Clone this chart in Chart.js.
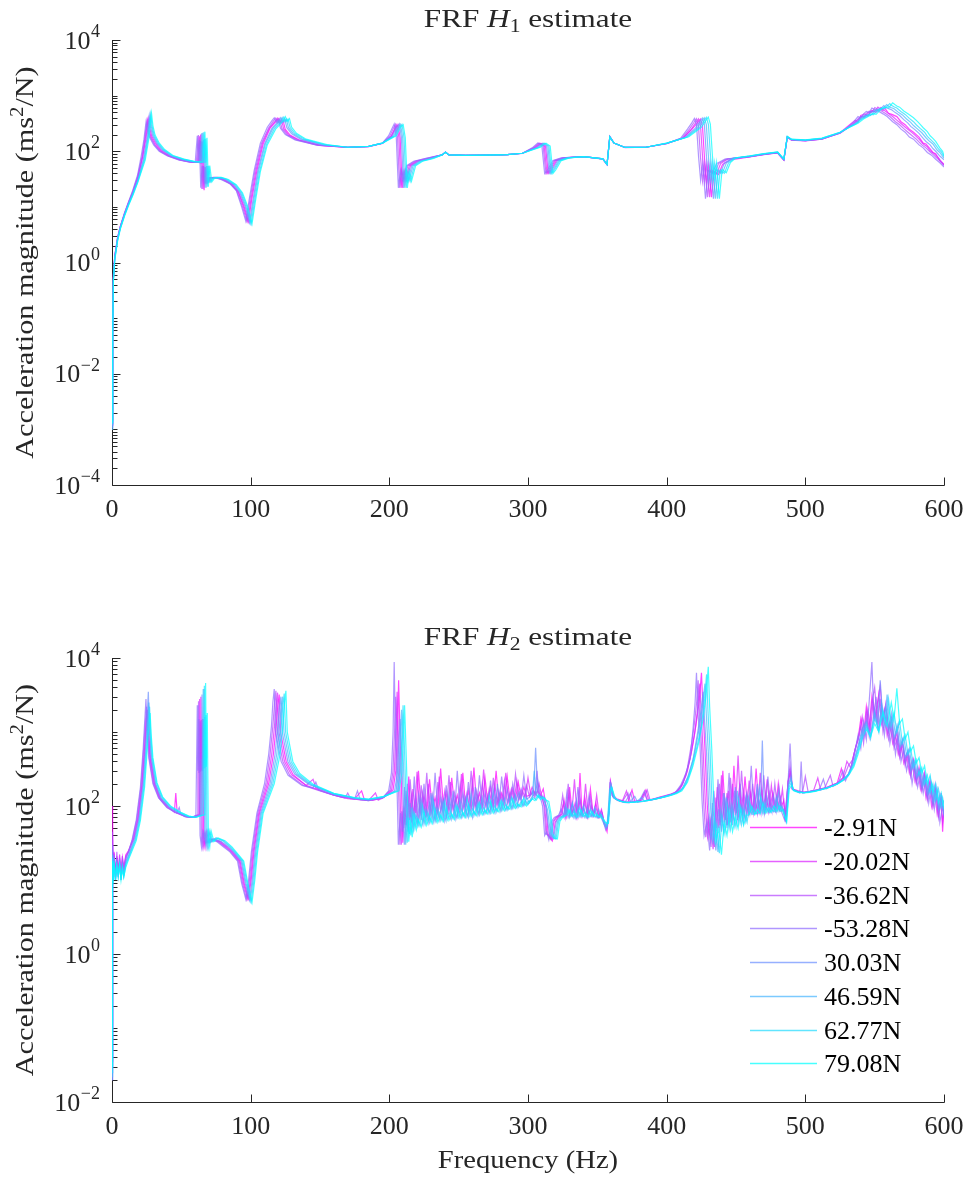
<!DOCTYPE html>
<html>
<head>
<meta charset="utf-8">
<script src="https://cdn.jsdelivr.net/npm/chart.js@4.4.1/dist/chart.umd.min.js"></script>
<style>
html,body{margin:0;padding:0;background:#fff;}
#wrap{position:relative;width:970px;height:1180px;background:#fff;}
canvas{position:absolute;left:0;}
</style>
</head>
<body>
<div id="wrap">
<canvas id="cH1" width="970" height="540" style="top:0"></canvas>
<canvas id="cH2" width="970" height="640" style="top:540px"></canvas>
</div>
<script>
// ---- static preload of each measurement (legend order) ----
const forceLabels = ['-2.91N', '-20.02N', '-36.62N', '-53.28N', '30.03N', '46.59N', '62.77N', '79.08N'];
const freqTicks = [0, 100, 200, 300, 400, 500, 600];
const h1Decades = [-4, -2, 0, 2, 4];
const h2Decades = [-2, 0, 2, 4];

// ---- H1 estimate: [frequency Hz, accelerance] ----
const h1N291 = [[0,0.0012],[0.5,0.05],[1,0.5],[2,1.25],[4,2.7],[6,4.4],[9,7.5],[12,12],[15,18],[18.5,32],[22,75],[24.5,170],[26.2,380],[27.2,260],[28.7,185],[31.7,135],[35.7,102],[41.7,82],[49.7,70],[57.7,64],[62.4,63],[63.9,200],[64.6,60],[65.4,150],[66.4,20],[67.4,52],[68.9,27],[70.9,33],[75.9,34],[80.9,31],[87,25],[91.5,18],[95.4,10],[98.4,5.4],[100.9,14],[104.5,45],[109,135],[114,260],[118.5,350],[120.4,390],[121.9,320],[123.4,360],[124.9,250],[128.4,195],[135.4,158],[150.4,128],[170,117],[185,121],[195,138],[201.3,185],[204.3,255],[206.3,300],[207.8,175],[209.3,22],[210.8,44],[212.3,30],[215.3,55],[220.3,66],[228.3,74],[238,86],[240.5,96],[243,86],[255,84],[270,85],[285,87],[296,91],[305.6,118],[309.6,138],[312.6,122],[314.6,40],[316.6,46],[320.6,68],[326.6,76],[340,80],[354,72],[357,57],[359,180],[362,140],[370,116],[385,118],[400,137],[412,175],[418,245],[422,320],[424.3,380],[425.8,290],[427.3,75],[428.8,28],[430.3,58],[432.3,15],[434.3,44],[437.3,38],[440.3,58],[446,70],[460,79],[470,87],[480,93],[484.5,69],[487,178],[490,158],[500,153],[512,165],[525,215],[532,300],[536,360],[538,330],[540,440],[543,470],[545,430],[548,540],[551,500],[554.4,610],[556,560],[557.4,590],[560,480],[562.4,460],[566,420],[569,340],[572,300],[575,250],[578,220],[582,180],[585,140],[587,135],[590,110],[592,95],[594,90],[597,68],[600,57]];
const h1N2002 = [[0,0.0015],[0.5,0.07],[1,0.6],[2,1.3],[4,2.7],[6,4.4],[9,7.5],[12,12],[15,18.5],[18.5,34],[22,80],[24,170],[25.6,360],[26.6,250],[28.1,182],[31.1,132],[35.1,101],[41.1,82],[49.1,70],[57.1,64],[61.6,63],[63.1,185],[63.8,60],[64.6,150],[65.6,21],[66.6,53],[68.1,27],[70.1,33],[75.1,34],[80.1,31],[86.3,25],[90.8,19],[94.8,10],[97.8,5.5],[100.3,14],[103.8,45],[108.5,140],[113.5,262],[117.8,352],[119.3,392],[120.8,322],[122.3,362],[123.8,252],[127.3,196],[134.3,159],[149.3,128],[170,117],[185,121],[195,139],[201.4,186],[203.9,256],[205.4,302],[206.9,176],[208.4,22],[209.9,45],[211.4,30],[214.4,55],[219.4,66],[227.4,74],[238,86],[240.5,96],[243,86],[255,84],[270,85],[285,87],[296,92],[304.7,117],[308.7,139],[311.7,123],[313.7,40],[315.7,46],[319.7,68],[325.7,76],[340,80],[354,73],[357,58],[359,182],[362,140],[370,117],[385,118],[400,138],[412,173],[417.9,252],[420.9,325],[422.9,383],[424.4,292],[425.9,77],[427.4,29],[428.9,59],[430.9,15],[432.9,45],[435.9,39],[438.9,60],[444,72],[460,80],[470,88],[480,94],[484.5,70],[487,180],[490,160],[500,155],[512,166],[525,213],[530,260],[534,300],[537,350],[541,430],[543,410],[545,480],[548,530],[550,510],[552.3,620],[554,580],[555.3,550],[557,540],[560.3,470],[563,420],[567,345],[570,300],[573,260],[576,225],[579,195],[582,165],[585,135],[588,120],[590,102],[593,90],[596,76],[598,66],[600,58]];
const h1N3662 = [[0,0.0013],[0.5,0.06],[1,0.6],[2,1.3],[4,2.8],[6,4.4],[9,7.6],[12,12],[15,19],[18.5,35],[21.5,78],[23.5,165],[25.1,350],[26.1,245],[27.6,180],[30.6,130],[34.6,100],[40.6,82],[48.6,70],[56.6,64],[60.8,63],[62.3,195],[63,61],[63.8,155],[64.8,21],[65.8,54],[67.3,27],[69.3,33],[74.3,34],[79.3,31],[85.6,26],[90.1,19],[94.1,10],[97.1,5.6],[99.6,14],[103.1,45],[107.8,140],[113,265],[116.6,355],[118.1,395],[119.6,325],[121.1,365],[122.6,255],[126.1,198],[133,160],[148,129],[170,118],[185,122],[195,139],[200.4,188],[202.9,258],[204.4,305],[205.9,178],[207.4,22],[208.9,45],[210.4,30],[213.4,55],[218.4,66],[226.4,74],[238,86],[240.5,97],[243,86],[255,84],[270,85],[285,87],[296,92],[303.9,116],[307.9,140],[310.9,124],[312.9,40],[314.9,46],[318.9,68],[324.9,76],[340,80],[354,73],[357,58],[359,183],[362,140],[370,117],[385,118],[400,138],[411,172],[416.4,250],[419.4,322],[421.4,385],[422.9,295],[424.4,78],[425.9,29],[427.4,59],[429.4,15],[431.4,45],[434.4,39],[437.4,60],[443,72],[460,80],[470,88],[480,94],[484.5,70],[487,180],[490,160],[500,155],[512,166],[525,212],[530,255],[533,295],[536,340],[540,425],[542,400],[544,480],[546,525],[548,500],[550.1,610],[552,570],[553.1,545],[555,530],[558.1,470],[561,420],[565,340],[568,300],[571,255],[574,220],[577,190],[580,165],[584,130],[587,115],[590,97],[592,88],[595,75],[598,63],[600,55]];
const h1N5328 = [[0,0.0011],[0.5,0.05],[1,0.55],[2,1.3],[4,2.8],[6,4.5],[9,7.8],[12,12.5],[15,20],[18.5,38],[21,80],[23,160],[24.5,330],[25.5,240],[27,180],[30,130],[34,100],[40,82],[48,70],[56,64],[60,63],[61.5,190],[62.2,62],[63,160],[64,22],[65,55],[66.5,27],[68.5,33],[73.5,34],[78.5,31],[85,26],[89.5,20],[93.5,10],[96.5,5.5],[99,14],[102.5,45],[107,140],[112,270],[115.5,360],[117,400],[118.5,330],[120,370],[121.5,260],[125,200],[132,160],[147,130],[170,118],[185,122],[195,140],[199.5,190],[202,260],[203.5,310],[205,180],[206.5,22],[208,45],[209.5,30],[212.5,55],[217.5,66],[225.5,74],[238,86],[240.5,97],[243,86],[255,84],[270,85],[285,87],[296,92],[303,115],[307,140],[310,125],[312,40],[314,46],[318,68],[324,76],[340,80],[354,73],[357,58],[359,185],[362,140],[370,117],[385,118],[400,138],[410,170],[415,250],[418,320],[420,390],[421.5,300],[423,80],[424.5,30],[426,60],[428,14],[430,45],[433,40],[436,60],[442,72],[460,80],[470,88],[480,94],[484.5,70],[487,180],[490,160],[500,155],[512,165],[525,210],[530,260],[532,290],[535,340],[538,420],[540,390],[542,470],[544,520],[546,490],[548,600],[550,560],[551,540],[553,520],[556,470],[559,420],[563,340],[566,300],[569,250],[572,220],[575,180],[578,165],[582,130],[585,115],[588,95],[591,85],[594,72],[597,62],[600,52]];
const h1P3003 = [[0,0.0012],[0.5,0.05],[1,0.5],[2,1.2],[4,2.6],[6,4.2],[9,7.2],[12,11.5],[15,17.5],[18.5,30],[22.5,70],[25,160],[26.8,420],[27.8,270],[29.3,190],[32.3,137],[36.3,104],[42.3,83],[50.3,71],[58.3,65],[63.1,64],[64.6,210],[65.3,61],[66.1,160],[67.1,22],[68.1,54],[69.6,28],[71.6,33],[76.6,34],[81.6,31],[87.7,25],[92.2,18],[96.1,10],[99.1,5.2],[101.6,13],[105.1,44],[110,135],[115.2,255],[120.1,350],[121.6,400],[123.1,335],[124.6,375],[126.1,265],[129.6,205],[136.6,162],[151.6,130],[170,118],[185,122],[195,140],[202.2,188],[205.2,262],[207.2,310],[208.7,178],[210.2,22],[211.7,44],[213.2,29],[216.2,55],[221.2,66],[229.2,74],[238,86],[240.5,96],[243,86],[255,84],[270,85],[285,87],[296,92],[306.4,118],[310.4,140],[313.4,124],[315.4,40],[317.4,46],[321.4,68],[327.4,76],[340,80],[354,73],[357,58],[359,182],[362,140],[370,117],[385,118],[400,139],[413,176],[420.7,260],[423.7,335],[425.7,395],[427.2,300],[428.7,80],[430.2,30],[431.7,60],[433.7,14],[435.7,46],[438.7,40],[441.7,62],[447,74],[460,81],[470,89],[480,95],[484.5,71],[487,182],[490,162],[500,157],[512,168],[525,215],[530,262],[535,305],[538,350],[540,400],[543,450],[545,430],[547,500],[551,560],[553,540],[556.6,660],[558,610],[559.6,590],[562,560],[564.6,500],[568,440],[571,370],[574,320],[576,280],[579,245],[582,210],[585,170],[587,150],[590,130],[592,112],[594,100],[597,82],[600,70]];
const h1P4659 = [[0,0.001],[0.5,0.05],[1,0.5],[2,1.2],[4,2.6],[6,4.2],[9,7.1],[12,11.3],[15,17],[18.5,29],[23,70],[25.6,165],[27.4,440],[28.4,280],[29.9,192],[32.9,138],[36.9,105],[42.9,83],[50.9,71],[58.9,65],[63.9,64],[65.4,215],[66.1,61],[66.9,165],[67.9,22],[68.9,54],[70.4,28],[72.4,33],[77.4,34],[82.4,31],[88.3,25],[92.8,18],[96.7,10],[99.7,5.1],[102.2,13],[105.7,44],[110.6,135],[116,255],[121.2,350],[122.7,405],[124.2,338],[125.7,378],[127.2,268],[130.7,207],[137.7,163],[152.7,131],[170,118],[185,122],[195,140],[203.1,188],[206.1,262],[208.1,305],[209.6,176],[211.1,22],[212.6,44],[214.1,29],[217.1,55],[222.1,66],[230.1,74],[238,86],[240.5,96],[243,86],[255,84],[270,85],[285,87],[296,92],[307.3,118],[311.3,140],[314.3,124],[316.3,40],[318.3,46],[322.3,68],[328.3,76],[340,80],[354,73],[357,58],[359,180],[362,140],[370,117],[385,118],[400,139],[414,178],[422.1,262],[425.1,340],[427.1,400],[428.6,302],[430.1,82],[431.6,31],[433.1,60],[435.1,14],[437.1,46],[440.1,40],[443.1,62],[448,75],[460,82],[470,90],[480,96],[484.5,72],[487,183],[490,163],[500,158],[512,170],[525,217],[531,265],[536,310],[539,360],[542,410],[545,460],[547,440],[550,520],[553,580],[555,560],[558.7,690],[560,640],[561.7,610],[564,580],[566.7,510],[570,450],[573,380],[576,330],[578,290],[581,250],[584,215],[587,175],[589,155],[592,135],[595,105],[597,95],[600,75]];
const h1P6277 = [[0,0.0014],[0.5,0.06],[1,0.5],[2,1.15],[4,2.5],[6,4.1],[9,7],[12,11],[15,16.5],[18.5,28],[23.5,70],[26.1,170],[27.9,460],[28.9,285],[30.4,195],[33.4,140],[37.4,106],[43.4,84],[51.4,72],[59.4,65],[64.7,64],[66.2,220],[66.9,62],[67.7,170],[68.7,23],[69.7,55],[71.2,28],[73.2,33],[78.2,34],[83.2,31],[89,25],[93.5,18],[97.4,10],[100.4,5],[102.9,13],[106.4,43],[111.4,132],[117,252],[122.4,350],[123.9,410],[125.4,340],[126.9,380],[128.4,270],[131.9,208],[138.9,164],[153.9,131],[170,118],[185,122],[195,140],[204.1,190],[207.1,265],[209.1,305],[210.6,175],[212.1,22],[213.6,44],[215.1,29],[218.1,55],[223.1,66],[231.1,74],[238,86],[240.5,96],[243,86],[255,84],[270,85],[285,87],[296,92],[308.1,118],[312.1,140],[315.1,124],[317.1,40],[319.1,46],[323.1,68],[329.1,76],[340,80],[354,73],[357,58],[359,180],[362,140],[370,117],[385,118],[400,140],[415,180],[423.6,265],[426.6,345],[428.6,405],[430.1,305],[431.6,83],[433.1,31],[434.6,61],[436.6,14],[438.6,46],[441.6,40],[444.6,62],[449,75],[460,82],[470,90],[480,96],[484.5,72],[487,184],[490,164],[500,159],[512,171],[525,219],[531,268],[537,315],[540,370],[544,420],[547,470],[549,450],[552,540],[555,600],[557,580],[560.9,720],[562,670],[563.9,630],[566,600],[568.9,520],[572,460],[575,390],[578,340],[580,300],[583,255],[586,220],[588,185],[590,165],[593,140],[596,110],[598,98],[600,80]];
const h1P7908 = [[0,0.0013],[0.5,0.05],[1,0.45],[2,1.1],[4,2.4],[6,4],[9,6.8],[12,10.7],[15,16],[18.5,27],[24,70],[26.7,175],[28.5,480],[29.5,290],[31,197],[34,141],[38,107],[44,84],[52,72],[60,65],[65.5,64],[67,225],[67.7,62],[68.5,175],[69.5,23],[70.5,55],[72,28],[74,33],[79,34],[84,31],[89.6,25],[94.1,18],[98,10],[101,5],[103.5,13],[107,43],[112,130],[118,250],[123.5,350],[125,420],[126.5,345],[128,385],[129.5,272],[133,210],[140,165],[155,132],[170,118],[185,122],[195,140],[205,190],[208,268],[210,300],[211.5,174],[213,22],[214.5,44],[216,29],[219,55],[224,66],[232,74],[238,86],[240.5,96],[243,86],[255,84],[270,85],[285,87],[296,92],[309,118],[313,140],[316,124],[318,40],[320,46],[324,68],[330,76],[340,80],[354,73],[357,58],[359,180],[362,140],[370,117],[385,118],[400,140],[416,182],[425,268],[428,350],[430,410],[431.5,308],[433,84],[434.5,32],[436,62],[438,14],[440,47],[443,41],[446,63],[450,76],[460,83],[470,91],[480,97],[484.5,73],[487,185],[490,165],[500,160],[512,172],[525,220],[532,270],[538,320],[542,380],[546,430],[549,480],[551,460],[554,550],[557,620],[560,600],[563,740],[564.5,690],[566,650],[568,620],[571,530],[574,470],[578,400],[581,340],[583,300],[585,265],[588,225],[590,190],[592,170],[594,150],[597,115],[599,100],[600,83]];

// ---- H2 estimate: [frequency Hz, accelerance] ----
const h2N291 = [[0,0.035],[0.3,100],[0.7,15],[1.5,24],[2.5,12],[3.5,21],[4.5,13],[5.5,19],[6.5,12],[7.5,20],[8.5,15],[10,22],[12,25],[15.8,36],[18.8,66],[21.8,190],[23.8,620],[24.8,1300],[25.8,2000],[26.6,900],[27.8,440],[30.8,200],[34.8,128],[40.8,96],[45,82],[46,150],[47,81],[53.8,72],[58.8,70],[63.1,76],[63.6,400],[64.1,3000],[64.6,300],[65.3,1500],[66.1,38],[67.1,28],[68.1,45],[70.1,32],[73.1,36],[78.1,33],[83.1,28],[86.9,24],[92.4,18],[95.4,9],[98.4,5.6],[100.4,10],[102.4,24],[106.4,80],[113,200],[116.4,500],[118.4,1200],[119.6,2300],[120.6,3200],[121.6,1000],[123.1,700],[125.6,400],[130.6,265],[140,190],[155,150],[165,133],[175,125],[180,160],[182,122],[188,119],[196,130],[202.7,165],[204.7,300],[205.9,1200],[206.7,5000],[207.5,1300],[208.7,200],[209.7,32],[211,90],[212.5,60],[214,250],[215.5,70],[217,170],[219,80],[221,300],[223,85],[225,140],[227,80],[229,230],[231,90],[233,130],[235,85],[237,320],[239,95],[241,150],[243,90],[245,240],[247,100],[249,140],[251,95],[253,280],[255,100],[257,160],[259,100],[261,330],[263,105],[265,150],[267,100],[269,240],[271,110],[273,180],[275,105],[277,300],[279,110],[281,150],[283,115],[285,250],[287,120],[289,170],[291,125],[293,210],[295,130],[297,180],[299,135],[301,140],[303,180],[305,145],[307,160],[309,140],[311,170],[313,100],[314.6,40],[316.1,38],[317.6,34],[319.6,60],[321.6,70],[324.6,78],[326,120],[328,74],[330,180],[332,76],[334,110],[336,74],[337.5,280],[339,78],[341,130],[343,74],[345,170],[347,76],[349,110],[351,72],[353,90],[355,58],[357,45],[358.5,90],[359.5,215],[361.5,140],[364,125],[368,118],[372,112],[375,165],[377,115],[381,118],[385,165],[387,120],[391,124],[395,132],[399,138],[403,145],[407,155],[411,190],[415,300],[418,550],[421,1200],[423.5,2600],[425.1,6300],[426.2,2000],[427.6,600],[429.2,110],[430.7,40],[432.5,70],[434.5,28],[436.5,180],[438.5,55],[440.5,300],[442.5,65],[444.5,160],[446.5,60],[448.5,350],[450.5,80],[452.5,180],[454.5,75],[456.5,250],[458.5,85],[460.5,150],[462.5,82],[464.5,320],[466.5,90],[468.5,160],[470.5,85],[472.5,230],[474.5,95],[476.5,150],[478.5,90],[480.5,200],[482.5,95],[484.5,120],[485.8,62],[487.6,215],[489.2,280],[491,170],[495,160],[499,154],[503,157],[507,163],[511,170],[515,178],[519,190],[523,205],[526,320],[528,225],[532,280],[535,500],[538,800],[540,1500],[542,900],[544,2200],[546,1100],[548,3000],[550,1500],[552,2500],[554,4200],[556,1400],[558,2400],[560,1000],[562,1500],[564,700],[566,1000],[568,500],[570,750],[572,380],[574,550],[576,270],[578,420],[580,210],[582,330],[584,170],[586,280],[588,130],[590,230],[592,100],[594,190],[596,70],[598,150],[599,45],[600,100]];
const h2N2002 = [[0,0.03],[0.4,35],[0.8,13],[1.5,23],[2.5,11],[3.5,20],[4.5,14],[5.5,22],[6.5,12],[7.5,18],[8.5,14],[10,21],[12,24],[15.4,36],[18.4,66],[21.4,185],[23.4,600],[24.4,1250],[25.4,2000],[26.2,900],[27.4,440],[30.4,200],[34.4,128],[40.4,95],[47.4,80],[53.4,72],[58.4,70],[62.2,76],[62.7,420],[63.2,2800],[63.7,290],[64.4,1450],[65.2,38],[66.2,28],[67.2,44],[69.2,32],[72.2,36],[77.2,33],[82.2,28],[86.3,24],[91.8,18],[94.8,9],[97.8,5.6],[99.8,10],[101.8,24],[105.8,80],[112,200],[115.2,500],[117.2,1200],[118.4,2300],[119.4,3400],[120.4,1000],[121.9,700],[124.4,400],[129.4,265],[140,190],[145,230],[147,175],[160,140],[170,126],[185,119],[190,150],[192,120],[196,130],[201.6,165],[203.6,290],[204.8,1000],[205.6,3500],[206.4,1100],[207.6,190],[208.6,30],[210,85],[211.5,55],[213,200],[214.5,65],[216,140],[218,75],[220,290],[222,80],[224,150],[226,70],[228,200],[230,80],[232,120],[234,75],[236,250],[238,90],[240,160],[242,85],[244,210],[246,90],[248,130],[250,85],[252,270],[254,95],[256,150],[258,90],[260,220],[262,100],[264,140],[266,95],[268,310],[270,100],[272,170],[274,100],[276,200],[278,105],[280,150],[282,110],[284,280],[286,115],[288,170],[290,120],[292,220],[294,125],[296,160],[298,130],[300,240],[302,140],[304,160],[306,140],[308,200],[310,130],[312,100],[313.7,42],[315.2,40],[316.7,35],[318.7,62],[320.7,70],[323.7,76],[325.5,110],[327.5,72],[329.5,150],[331.5,74],[333.5,230],[335.5,72],[337.5,120],[339.5,76],[341.5,200],[343.5,72],[345.5,100],[347.5,74],[349.5,140],[351.5,70],[353.5,80],[355,60],[357,52],[358.7,100],[359.6,205],[361.3,135],[364,122],[368,116],[371,160],[373,113],[377,116],[381,118],[384,150],[386,120],[390,124],[394,130],[398,134],[402,142],[406,150],[410,175],[414,260],[417,450],[420,900],[422,1800],[423.9,4500],[425,1600],[426.4,500],[428,100],[429.5,38],[431.5,65],[433.5,26],[435.5,130],[437.5,50],[439.5,260],[441.5,60],[443.5,150],[445.5,60],[447.5,200],[449.5,75],[451.5,480],[453.5,80],[455.5,160],[457.5,78],[459.5,220],[461.5,85],[463.5,140],[465.5,80],[467.5,280],[469.5,90],[471.5,150],[473.5,85],[475.5,190],[477.5,90],[479.5,140],[481.5,90],[483.5,170],[485.5,66],[487.5,205],[489,300],[490.5,170],[494,157],[498,152],[502,156],[506,162],[509,240],[511,165],[515,176],[519,190],[523,205],[527,240],[530,400],[533,320],[536,600],[539,900],[541,1600],[543,900],[545,2000],[547,1100],[549,2600],[551,1500],[553,3200],[555,1300],[557,2000],[559,900],[561,1300],[563,700],[565,900],[567,500],[569,650],[571,380],[573,500],[575,280],[577,420],[579,220],[581,320],[583,170],[585,260],[587,130],[589,210],[591,100],[593,180],[595,80],[597,140],[599,60],[600,90]];
const h2N3662 = [[0,0.025],[0.4,45],[0.8,14],[1.5,20],[2.5,12],[3.5,24],[4.5,11],[5.5,17],[6.5,13],[7.5,21],[8.5,12],[10,19],[12,25],[14.9,36],[17.9,66],[20.9,185],[22.9,620],[23.9,1250],[24.9,2200],[25.7,950],[26.9,440],[29.9,200],[33.9,128],[39.9,95],[46.9,80],[52.9,72],[57.9,70],[61.4,76],[61.9,450],[62.4,2600],[62.9,280],[63.6,1400],[64.4,38],[65.4,28],[66.4,44],[68.4,32],[71.4,36],[76.4,33],[81.4,28],[85.6,24],[91.1,18],[94.1,9],[97.1,5.5],[99.1,10],[101.1,24],[105.1,80],[111,200],[114,500],[116,1200],[117.2,2400],[118.2,3600],[119.2,1000],[120.7,700],[123.2,400],[128.2,260],[138,190],[150,160],[160,140],[168,128],[170,150],[172,126],[185,118],[195,128],[200.6,165],[202.6,290],[203.8,1000],[204.6,3000],[205.4,1100],[206.6,190],[207.6,30],[209,85],[210.5,50],[212,160],[213.5,60],[215,230],[217,70],[219,130],[221,60],[223,190],[225,80],[227,280],[229,75],[231,140],[233,70],[235,210],[237,85],[239,120],[241,75],[243,260],[245,90],[247,150],[249,80],[251,190],[253,90],[255,130],[257,85],[259,300],[261,95],[263,160],[265,90],[267,200],[269,100],[271,140],[273,95],[275,240],[277,100],[279,160],[281,105],[283,220],[285,110],[287,150],[289,115],[291,270],[293,120],[295,170],[297,125],[299,190],[301,135],[303,150],[305,130],[306.5,300],[308,135],[310,140],[311.5,100],[312.9,42],[314.5,40],[316,36],[318,62],[320,70],[323,76],[325,140],[327,72],[329,200],[331,75],[333,95],[335,70],[337,160],[339,76],[341,110],[343,72],[345,130],[347,74],[349,95],[351,70],[353,85],[354.5,62],[356.5,50],[358.5,80],[359.3,200],[361,135],[364,122],[368,115],[372,150],[374,113],[378,116],[382,118],[386,165],[388,120],[392,125],[396,130],[400,136],[404,145],[408,160],[412,210],[415,330],[418,700],[420,1300],[421.7,2600],[422.7,5000],[423.7,1800],[425.2,600],[426.7,110],[428.2,38],[430,70],[432,28],[434,160],[436,50],[438,200],[440,60],[442,120],[444,55],[446,240],[448,75],[450,140],[452,70],[454,300],[456,80],[458,150],[460,80],[462,200],[464,85],[466,130],[468,80],[470,260],[472,90],[474,150],[476,85],[478,200],[480,90],[482,130],[484,85],[485.5,66],[487.5,210],[489,350],[490.5,170],[494,158],[498,152],[500,250],[502,155],[506,160],[510,168],[514,175],[518,260],[520,185],[524,205],[528,250],[531,350],[534,420],[537,700],[540,1200],[542,700],[544,1800],[546,900],[548,2500],[550,4000],[552,1300],[554,2800],[556,1000],[558,1600],[560,800],[562,1200],[564,600],[566,800],[568,450],[570,700],[572,350],[574,500],[576,250],[578,400],[580,200],[582,300],[584,160],[586,260],[588,120],[590,200],[592,100],[594,170],[596,70],[598,130],[600,80]];
const h2N5328 = [[0,0.02],[0.4,30],[0.8,12],[1.5,22],[2.5,10],[3.5,18],[4.5,12],[5.5,20],[6.5,11],[7.5,17],[8.5,13],[10,20],[12,24],[14.5,35],[17.5,65],[20.5,180],[22.5,600],[23.5,1300],[24.5,2800],[25.3,1000],[26.5,450],[29.5,200],[33.5,130],[39.5,95],[46.5,80],[48.5,95],[49.5,78],[52.5,72],[57.5,70],[60.5,75],[61,400],[61.5,2300],[62,300],[62.7,1500],[63.5,40],[64.5,28],[65.5,45],[67.5,32],[70.5,36],[75.5,33],[80.5,28],[85,24],[90.5,18],[93.5,9],[96.5,5.5],[98.5,10],[100.5,24],[104.5,80],[110,200],[113,500],[115,1200],[116,2500],[117,3800],[118,1000],[119.5,700],[122,400],[127,260],[137,190],[145,175],[147,210],[149,165],[160,140],[175,125],[177,160],[179,122],[185,118],[195,128],[199.5,160],[201.5,280],[202.7,1000],[203.5,8800],[204.3,1200],[205.5,200],[206.5,30],[208,80],[209.5,45],[211,180],[212.5,55],[214,120],[216,60],[218,250],[219.5,70],[221,140],[223,65],[225,200],[227,75],[229,110],[231,70],[233,280],[235,80],[237,130],[239,70],[241,190],[243,85],[245,120],[247,75],[249,300],[251,85],[253,150],[255,80],[257,210],[259,90],[261,130],[263,85],[265,260],[267,95],[269,150],[271,90],[273,220],[275,95],[277,140],[279,100],[281,250],[283,105],[285,170],[287,110],[289,200],[291,115],[293,150],[295,120],[297,260],[299,125],[301,130],[303,160],[305,140],[307,220],[309,130],[310.5,100],[312,40],[313.5,45],[315,35],[317,62],[319,70],[322,75],[324,90],[326,70],[328,150],[330,75],[332,110],[334,72],[336,180],[338,78],[340,95],[342,72],[344,140],[346,75],[348,90],[350,70],[352,80],[354,65],[356,48],[358,70],[359,210],[360.5,140],[363,125],[366,118],[370,112],[374,150],[376,112],[380,115],[384,160],[386,118],[390,122],[394,128],[398,135],[402,142],[406,150],[410,190],[414,280],[417,450],[419,1100],[420.5,2500],[421.5,6300],[422.5,2000],[424,700],[425.5,120],[427,40],[429,60],[431,25],[433,110],[435,45],[437,230],[439,60],[441,150],[443,55],[445,280],[447,70],[449,160],[451,65],[453,200],[455,75],[457,130],[459,80],[461,350],[463,82],[465,170],[467,82],[469,120],[471,85],[473,250],[475,90],[477,140],[479,85],[481,180],[483,82],[485,65],[487.5,200],[489,700],[490.5,170],[493,160],[496,150],[497,400],[498,150],[502,155],[506,160],[510,165],[513,230],[515,170],[520,190],[524,210],[527,300],[529,220],[532,300],[535,450],[538,900],[540,600],[542,1400],[544,800],[546,2500],[548,8800],[549.5,1500],[551,3000],[553,1200],[555,2200],[557,900],[559,1800],[561,700],[563,1200],[565,500],[567,900],[569,400],[571,600],[573,300],[575,450],[577,200],[579,350],[581,180],[583,280],[585,150],[587,250],[589,110],[591,200],[593,90],[595,160],[597,60],[599,100],[600,70]];
const h2P3003 = [[0,0.02],[0.4,25],[0.8,11],[1.5,20],[2.5,10],[3.5,17],[4.5,12],[5.5,18],[6.5,10],[7.5,16],[8.5,12],[10,18],[12,22],[16.2,36],[19.2,66],[22.2,190],[24.2,650],[25.2,1400],[26.2,3500],[27,1000],[28.2,450],[31.2,200],[35.2,128],[41.2,96],[48.2,80],[54.2,72],[59.2,70],[63.9,76],[64.4,420],[64.9,3200],[65.4,300],[66.1,1500],[66.9,38],[67.9,28],[68.9,45],[70.9,32],[73.9,36],[78.9,33],[83.9,28],[87.6,24],[93.1,18],[96.1,9],[99.1,5.4],[101.1,10],[103.1,24],[107.1,80],[114,200],[117.6,500],[119.6,1200],[120.8,2200],[121.8,3000],[122.8,1000],[124.3,700],[126.8,400],[131.8,270],[142,195],[160,145],[175,127],[185,121],[196,132],[203.8,160],[205.8,280],[207,800],[207.8,1500],[208.6,700],[209.8,150],[210.8,30],[212.2,70],[213.5,45],[215,110],[216.5,50],[218,80],[220,55],[222,130],[224,58],[226,90],[228,60],[230,150],[232,62],[234,95],[236,65],[238,120],[240,62],[242,85],[244,68],[246,160],[248,66],[250,90],[252,70],[254,130],[256,72],[258,95],[260,70],[262,180],[264,75],[266,100],[268,78],[270,120],[272,80],[274,105],[276,82],[278,200],[280,85],[282,110],[284,88],[286,130],[288,92],[290,115],[292,95],[294,150],[296,100],[298,120],[300,105],[302,125],[304,140],[305.5,610],[307,150],[309,130],[311,135],[313,95],[315.4,42],[317,38],[318.5,36],[320.4,62],[322.4,70],[325.4,75],[327,100],[329,70],[331,90],[333,70],[335,120],[337,72],[339,85],[341,70],[343,95],[345,72],[347,80],[349,70],[351,90],[353,68],[355,56],[357,50],[358.8,120],[359.7,195],[361.5,130],[365,118],[369,112],[373,110],[377,135],[379,112],[383,115],[387,120],[391,124],[395,128],[399,135],[403,140],[407,150],[411,170],[415,240],[419,420],[422,900],[424.5,1800],[426.3,3500],[427.3,1500],[428.8,500],[430.3,100],[431.8,35],[433.5,60],[435.5,25],[437.5,90],[439.5,45],[441.5,150],[443.5,50],[445.5,110],[447.5,55],[449.5,180],[451.5,60],[453.5,100],[455.5,60],[457.5,140],[459.5,78],[461.5,95],[463.5,78],[465.5,200],[467.5,80],[469,770],[470.5,80],[472.5,130],[474.5,82],[476.5,100],[478.5,84],[480.5,150],[482.5,85],[484.5,90],[486,64],[487.8,195],[489.5,250],[491,165],[495,156],[499,152],[503,155],[507,160],[511,166],[515,174],[519,185],[523,200],[527,225],[531,270],[535,400],[538,650],[541,1100],[544,1400],[547,900],[550,2000],[552,1200],[554,5000],[556,1400],[558,2200],[560,1100],[562,1800],[564,800],[566,1200],[568,600],[570,800],[572,450],[574,550],[576,300],[578,400],[580,240],[582,300],[584,180],[586,240],[588,140],[590,190],[592,110],[594,160],[596,90],[598,130],[600,75]];
const h2P4659 = [[0,0.022],[0.4,22],[0.8,10],[1.5,19],[2.5,11],[3.5,16],[4.5,11],[5.5,17],[6.5,11],[7.5,15],[8.5,12],[10,17],[12,21],[16.6,35],[19.6,65],[22.6,185],[24.6,620],[25.6,1300],[26.6,2500],[27.4,950],[28.6,450],[31.6,200],[35.6,130],[41.6,97],[48.6,81],[54.6,72],[59.6,70],[64.8,76],[65.3,450],[65.8,3800],[66.3,320],[67,1600],[67.8,38],[68.8,28],[69.8,46],[71.8,33],[74.8,37],[79.8,34],[84.8,28],[88.2,24],[93.7,18],[96.7,9],[99.7,5.2],[101.7,10],[103.7,24],[107.7,80],[115,200],[118.8,500],[120.8,1200],[122,2200],[123,3000],[124,1000],[125.5,700],[128,400],[133,270],[143,195],[160,146],[175,128],[185,122],[196,133],[204.8,160],[206.8,280],[208,900],[208.8,2000],[209.6,800],[210.8,150],[211.8,30],[213.2,70],[214.5,42],[216,95],[217.5,48],[219,75],[221,55],[223,115],[225,57],[227,85],[229,60],[231,130],[233,62],[235,90],[237,64],[239,110],[241,65],[243,140],[245,66],[247,88],[249,70],[251,120],[253,72],[255,92],[257,70],[259,150],[261,74],[263,100],[265,76],[267,130],[269,78],[271,95],[273,80],[275,160],[277,82],[279,105],[281,86],[283,125],[285,88],[287,110],[289,92],[291,140],[293,96],[295,115],[297,100],[299,130],[301,110],[303,125],[304.5,300],[306,140],[308,128],[310,135],[312,115],[314,90],[316.3,42],[318,38],[319.5,36],[321.3,62],[323.3,70],[326.3,75],[328,95],[330,70],[332,110],[334,70],[336,88],[338,72],[340,100],[342,70],[344,85],[346,72],[348,95],[350,70],[352,80],[354,66],[356,52],[358,60],[359.2,150],[360,190],[362,128],[366,117],[370,112],[374,112],[378,114],[382,130],[384,116],[388,120],[392,125],[396,130],[400,135],[404,142],[408,152],[412,175],[416,260],[420,500],[423,1000],[425.8,2200],[427.6,4500],[428.6,1700],[430.1,500],[431.6,100],[433.1,35],[435,60],[437,24],[439,85],[441,45],[443,130],[445,50],[447,100],[449,55],[451,160],[453,60],[455,95],[457,62],[459,130],[461,78],[463,90],[465,78],[467,170],[469,80],[471,110],[473,82],[475,95],[477,84],[479,130],[481,85],[483,100],[484.5,85],[486.2,63],[488,190],[489.7,230],[491.2,165],[495,157],[499,152],[503,156],[507,160],[511,167],[515,175],[519,186],[523,200],[527,225],[531,265],[535,380],[538,600],[541,1000],[544,1300],[547,800],[550,1800],[553,1000],[555,2400],[557,1300],[559,3200],[561,1100],[563,1700],[565,900],[567,1300],[569,650],[571,850],[573,480],[575,600],[577,320],[579,420],[581,250],[583,320],[585,190],[587,250],[589,150],[591,200],[593,115],[595,170],[597,95],[599,130],[600,100]];
const h2P6277 = [[0,0.025],[0.4,20],[0.8,10],[1.5,18],[2.5,10],[3.5,16],[4.5,12],[5.5,16],[6.5,10],[7.5,15],[8.5,11],[10,16],[12,20],[17.1,35],[20.1,65],[23.1,185],[25.1,620],[26.1,1250],[27.1,2200],[27.9,950],[29.1,450],[32.1,205],[36.1,132],[42.1,98],[49.1,82],[55.1,73],[60.1,70],[65.6,76],[66.1,480],[66.6,4200],[67.1,330],[67.8,1700],[68.6,38],[69.6,28],[70.6,46],[72.6,33],[75.6,37],[80.6,34],[85.6,28],[88.9,24],[94.4,18],[97.4,9],[100.4,5.1],[102.4,10],[104.4,24],[108.4,80],[116,200],[120,500],[122,1200],[123.2,2300],[124.2,3300],[125.2,1000],[126.7,700],[129.2,400],[134.2,272],[144,196],[160,147],[175,129],[185,123],[196,134],[205.9,160],[207.9,280],[209.1,900],[209.9,2300],[210.7,800],[211.9,150],[212.9,32],[214.3,70],[215.5,40],[217,85],[218.5,50],[220,70],[222,54],[224,100],[226,57],[228,80],[230,60],[232,110],[234,62],[236,82],[238,64],[240,120],[242,66],[244,85],[246,68],[248,105],[250,70],[252,90],[254,72],[256,130],[258,74],[260,92],[262,76],[264,110],[266,78],[268,95],[270,80],[272,140],[274,82],[276,100],[278,85],[280,115],[282,88],[284,105],[286,90],[288,130],[290,94],[292,110],[294,98],[296,120],[298,102],[300,115],[302,118],[304,130],[306,120],[308,140],[310,125],[312,130],[314,110],[315.5,85],[317.1,42],[318.8,37],[320.3,36],[322.1,62],[324.1,70],[327.1,75],[329,90],[331,72],[333,85],[335,70],[337,95],[339,72],[341,82],[343,70],[345,90],[347,72],[349,80],[351,70],[353,76],[355,62],[357,55],[359,170],[360.3,180],[362.5,127],[366,117],[370,112],[374,112],[378,114],[382,116],[386,119],[390,123],[394,128],[398,133],[402,140],[406,148],[410,160],[414,200],[418,320],[422,650],[425,1200],[427.3,2800],[428.8,6000],[429.8,1900],[431.3,550],[432.8,100],[434.3,33],[436,55],[438,23],[440,70],[442,42],[444,100],[446,48],[448,80],[450,52],[452,120],[454,56],[456,85],[458,60],[460,110],[462,77],[464,80],[466,79],[468,130],[470,80],[472,95],[474,82],[476,88],[478,84],[480,110],[482,85],[484,90],[486.4,62],[488.2,180],[490,210],[491.5,163],[495,155],[499,151],[503,155],[507,159],[511,166],[515,174],[519,185],[523,199],[527,222],[531,260],[535,360],[538,550],[541,900],[544,1200],[547,900],[550,1500],[553,1100],[556,2000],[558,1300],[560,2800],[562,1200],[564,1800],[566,1000],[568,1400],[570,700],[572,900],[574,500],[576,600],[578,330],[580,420],[582,260],[584,330],[586,200],[588,260],[590,150],[592,200],[594,120],[596,170],[598,95],[600,120]];
const h2P7908 = [[0,0.03],[0.4,18],[0.8,9],[1.5,17],[2.5,10],[3.5,15],[4.5,11],[5.5,16],[6.5,10],[7.5,14],[8.5,11],[10,15],[12,19],[17.5,34],[20.5,64],[23.5,180],[25.5,600],[26.5,1150],[27.5,1800],[28.3,900],[29.5,450],[32.5,205],[36.5,133],[42.5,99],[49.5,82],[55.5,73],[60.5,70],[66.5,76],[67,500],[67.5,4600],[68,340],[68.7,1800],[69.5,38],[70.5,28],[71.5,46],[73.5,33],[76.5,37],[81.5,34],[86.5,28],[89.5,24],[95,18],[98,9],[101,5],[103,10],[105,24],[109,80],[117,200],[121.2,500],[123.2,1200],[124.4,2400],[125.4,3600],[126.4,1000],[127.9,700],[130.4,400],[135.4,275],[145,197],[160,148],[175,130],[185,124],[196,135],[207,160],[209,280],[210.2,900],[211,2300],[211.8,800],[213,150],[214,33],[215.4,60],[216.5,38],[218,75],[219.5,48],[221,65],[223,52],[225,85],[227,55],[229,72],[231,58],[233,90],[235,60],[237,75],[239,62],[241,95],[243,64],[245,78],[247,66],[249,100],[251,68],[253,82],[255,70],[257,105],[259,72],[261,85],[263,74],[265,110],[267,76],[269,88],[271,78],[273,115],[275,80],[277,92],[279,83],[281,120],[283,86],[285,98],[287,90],[289,125],[291,93],[293,105],[295,97],[297,130],[299,100],[301,112],[303,125],[305,118],[307,140],[309,122],[311,130],[313,120],[315,115],[316.5,80],[318,42],[319.7,37],[321.2,36],[323,62],[325,70],[328,75],[330,88],[332,72],[334,80],[336,70],[338,90],[340,72],[342,78],[344,70],[346,85],[348,72],[350,76],[352,70],[354,68],[356,60],[358,58],[359.5,150],[360.6,175],[363,126],[367,116],[371,112],[375,112],[379,114],[383,116],[387,119],[391,123],[395,128],[399,133],[403,139],[407,147],[411,160],[415,210],[419,350],[423,700],[426,1400],[428.5,3200],[430,7600],[431,2200],[432.5,600],[434,110],[435.5,33],[437.5,50],[439.5,22],[441.5,60],[443.5,40],[445.5,85],[447.5,45],[449.5,70],[451.5,50],[453.5,95],[455.5,55],[457.5,75],[459.5,76],[461.5,100],[463.5,77],[465.5,90],[467.5,79],[469.5,110],[471.5,80],[473.5,95],[475.5,82],[477.5,100],[479.5,84],[481.5,100],[483.5,86],[486.6,62],[488.4,170],[490.2,190],[491.8,160],[495,153],[499,150],[503,153],[507,158],[511,165],[515,173],[519,184],[523,197],[527,220],[531,255],[535,340],[538,500],[541,800],[544,1100],[547,850],[550,1300],[553,1000],[556,1800],[559,1200],[562,2500],[564,1500],[566,3900],[568,1300],[570,1500],[572,800],[574,1000],[576,550],[578,650],[580,380],[582,450],[584,280],[586,350],[588,200],[590,260],[592,150],[594,200],[596,110],[598,150],[600,90]];

const h1Series = [h1N291, h1N2002, h1N3662, h1N5328, h1P3003, h1P4659, h1P6277, h1P7908];
const h2Series = [h2N291, h2N2002, h2N3662, h2N5328, h2P3003, h2P4659, h2P6277, h2P7908];

// ---- styling ----
const FONT = '"Liberation Serif", "Times New Roman", serif';
const INK = '#262626';
// horizontal stretch for word labels
const WIDE_TITLE = 1.2, WIDE_YLAB = 1.16, WIDE_XLAB = 1.1;
// "cool" colour ramp, magenta -> cyan
const lineColors = forceLabels.map((_, i) => {
  const t = i / (forceLabels.length - 1);
  const r = Math.round(255 * (1 - t)), g = Math.round(255 * t);
  return `rgba(${r},${g},255,0.72)`;
});

function runWidth(ctx, parts) {
  let w = 0;
  for (const p of parts) { ctx.font = `${p.it ? 'italic ' : ''}${p.size}px ${FONT}`; w += ctx.measureText(p.t).width; }
  return w;
}
// draw a run of text pieces centred on cx, with a horizontal stretch sx
function drawRun(ctx, parts, cx, baseY, sx) {
  ctx.save();
  ctx.translate(cx, baseY);
  ctx.scale(sx, 1);
  const w = runWidth(ctx, parts);
  let x = -w / 2;
  ctx.textAlign = 'left';
  ctx.textBaseline = 'alphabetic';
  for (const p of parts) {
    ctx.font = `${p.it ? 'italic ' : ''}${p.size}px ${FONT}`;
    ctx.fillText(p.t, x, p.dy || 0);
    x += ctx.measureText(p.t).width;
  }
  ctx.restore();
}

const frame = {
  id: 'frame',
  beforeDatasetsDraw(chart, args, o) {
    const { ctx, chartArea: a, scales: { x, y } } = chart;
    ctx.save();
    ctx.strokeStyle = INK;
    ctx.fillStyle = INK;
    ctx.lineWidth = 1;
    const L = Math.round(a.left) + 0.5, B = Math.round(a.bottom) + 0.5;
    ctx.beginPath();
    ctx.moveTo(L, Math.round(a.top));
    ctx.lineTo(L, B);
    ctx.lineTo(Math.round(a.right) + 0.5, B);
    ctx.stroke();

    // inward ticks
    ctx.beginPath();
    freqTicks.forEach(v => {
      const px = Math.round(x.getPixelForValue(v)) + 0.5;
      ctx.moveTo(px, B); ctx.lineTo(px, B - 8);
    });
    const lo = o.decades[0], hi = o.decades[o.decades.length - 1];
    for (let d = lo; d <= hi; d++) {
      for (let m = 1; m <= 9; m++) {
        if (d === hi && m > 1) break;
        const py = Math.round(y.getPixelForValue(m * Math.pow(10, d))) + 0.5;
        const len = (m === 1 && o.decades.includes(d)) ? 8 : 5;
        ctx.moveTo(L, py); ctx.lineTo(L + len, py);
      }
    }
    ctx.stroke();

    // x tick labels
    ctx.font = `26px ${FONT}`;
    ctx.textAlign = 'center';
    ctx.textBaseline = 'alphabetic';
    freqTicks.forEach(v => ctx.fillText(String(v), x.getPixelForValue(v), a.bottom + 32));

    // y tick labels 10^d
    o.decades.forEach(d => {
      const py = y.getPixelForValue(Math.pow(10, d));
      const ex = d < 0 ? '\u2212' + (-d) : String(d);
      const right = a.left - 12;
      ctx.textAlign = 'left';
      ctx.font = `18px ${FONT}`;
      const we = ctx.measureText(ex).width;
      ctx.fillText(ex, right - we, py - 3);
      ctx.font = `26px ${FONT}`;
      const wb = ctx.measureText('10').width;
      ctx.fillText('10', right - we - wb - 0.5, py + 8.5);
    });

    // y axis title
    ctx.save();
    ctx.translate(a.left - 79, (a.top + a.bottom) / 2);
    ctx.rotate(-Math.PI / 2);
    drawRun(ctx, [
      { t: 'Acceleration magnitude (ms', size: 26 },
      { t: '2', size: 18, dy: -10 },
      { t: '/N)', size: 26 }
    ], 0, 0, WIDE_YLAB);
    ctx.restore();

    // panel title
    const cx = (a.left + a.right) / 2;
    drawRun(ctx, [
      { t: 'FRF ', size: 26 },
      { t: 'H', size: 26, it: true },
      { t: o.sub, size: 18, dy: 5 },
      { t: ' estimate', size: 26 }
    ], cx, a.top - 13, WIDE_TITLE);

    if (o.xTitle) {
      drawRun(ctx, [{ t: o.xTitle, size: 26 }], cx, a.bottom + 66, WIDE_XLAB);
    }
    ctx.restore();
  },
  afterDraw(chart, args, o) {
    if (!o.legend) return;
    const { ctx, chartArea: a } = chart;
    ctx.save();
    forceLabels.forEach((lab, i) => {
      const yy = Math.round(a.top + 169 + i * 33.75) + 0.5;
      ctx.strokeStyle = lineColors[i];
      ctx.lineWidth = 1.5;
      ctx.beginPath();
      ctx.moveTo(a.right - 194, yy);
      ctx.lineTo(a.right - 127, yy);
      ctx.stroke();
      ctx.fillStyle = '#000';
      ctx.font = `26px ${FONT}`;
      ctx.textAlign = 'left';
      ctx.textBaseline = 'alphabetic';
      ctx.fillText(lab, a.right - 120, yy + 8.5);
    });
    ctx.restore();
  }
};

function buildChart(id, series, yMin, decades, pad, extra) {
  const datasets = series.map((arr, i) => ({
    label: forceLabels[i],
    data: arr.map(([f, v]) => ({ x: f, y: v })),
    borderColor: lineColors[i],
    backgroundColor: lineColors[i],
    borderWidth: 1.2,
    pointRadius: 0,
    tension: 0,
    fill: false,
    order: series.length - i
  }));
  return new Chart(document.getElementById(id), {
    type: 'line',
    data: { datasets },
    plugins: [frame],
    options: {
      responsive: false,
      animation: false,
      events: [],
      layout: { padding: pad },
      plugins: {
        legend: { display: false },
        tooltip: { enabled: false },
        title: { display: false },
        frame: Object.assign({ decades }, extra)
      },
      scales: {
        x: {
          type: 'linear', min: 0, max: 600,
          grid: { display: false }, border: { display: false },
          ticks: { display: false },
          afterFit(s) { s.height = 0; }
        },
        y: {
          type: 'logarithmic', min: yMin, max: 1e4,
          grid: { display: false }, border: { display: false },
          ticks: { display: false },
          afterFit(s) { s.width = 0; }
        }
      }
    }
  });
}

buildChart('cH1', h1Series, 1e-4, h1Decades,
  { left: 112, top: 40, right: 26, bottom: 55 }, { sub: '1', legend: false });
buildChart('cH2', h2Series, 1e-2, h2Decades,
  { left: 112, top: 118, right: 26, bottom: 78 }, { sub: '2', legend: true, xTitle: 'Frequency (Hz)' });
</script>
</body>
</html>
